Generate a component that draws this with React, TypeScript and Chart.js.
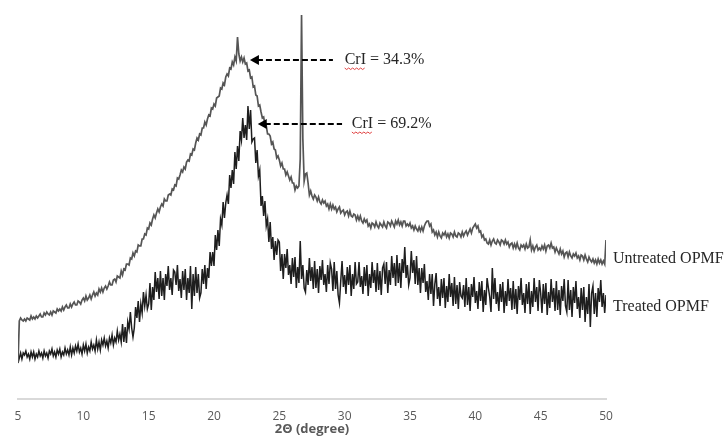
import React, { useEffect, useRef } from "react";
import { Chart, registerables } from "chart.js";

Chart.register(...registerables);

// 2θ grid (degrees): one value per 0.1° from 5° to 50°
const THETA_START = 5;
const THETA_STEP = 0.1;

// Untreated OPMF intensity (a.u.)
const untreated = [
  36, 78, 81, 79, 78, 80, 78, 81, 80, 79, 83, 80, 82, 80, 83, 81, 83, 85, 82, 82,
  86, 84, 87, 85, 84, 87, 84, 88, 87, 86, 90, 88, 90, 88, 92, 89, 92, 94, 91, 91,
  95, 92, 95, 97, 94, 94, 98, 97, 95, 99, 101, 98, 103, 99, 101, 104, 100, 104, 107, 103,
  106, 104, 110, 107, 111, 107, 111, 113, 110, 113, 117, 114, 114, 119, 120, 117, 123, 122, 121, 128,
  124, 130, 129, 135, 135, 134, 141, 140, 146, 143, 148, 147, 154, 153, 153, 160, 160, 165, 164, 171,
  170, 176, 174, 180, 184, 181, 186, 190, 187, 192, 195, 193, 200, 198, 198, 204, 205, 204, 210, 209,
  214, 213, 221, 220, 224, 229, 227, 232, 230, 237, 239, 238, 245, 244, 250, 249, 256, 261, 259, 265,
  264, 271, 271, 277, 274, 280, 284, 283, 291, 290, 295, 293, 301, 302, 303, 311, 310, 316, 314, 322,
  325, 323, 331, 330, 337, 334, 342, 338, 362, 345, 338, 342, 337, 341, 335, 336, 328, 329, 321, 322,
  312, 313, 304, 303, 293, 294, 287, 281, 282, 274, 273, 265, 265, 263, 255, 257, 250, 249, 241, 243,
  239, 233, 236, 230, 230, 224, 227, 223, 219, 222, 216, 216, 209, 213, 211, 213, 240, 384, 260, 218,
  225, 226, 216, 204, 208, 203, 200, 204, 202, 198, 202, 197, 195, 199, 196, 198, 193, 195, 190, 195,
  190, 194, 190, 192, 187, 190, 192, 186, 188, 189, 184, 187, 188, 183, 188, 183, 182, 185, 184, 179,
  183, 179, 183, 178, 176, 180, 177, 179, 173, 175, 171, 176, 175, 172, 177, 173, 171, 176, 174, 172,
  177, 173, 171, 177, 176, 173, 178, 175, 172, 178, 175, 179, 174, 177, 173, 178, 178, 173, 175, 173,
  176, 171, 173, 169, 173, 170, 168, 172, 168, 172, 168, 173, 176, 178, 178, 173, 175, 167, 169, 164,
  167, 162, 167, 163, 161, 166, 164, 167, 162, 165, 161, 166, 165, 162, 167, 163, 162, 166, 165, 162,
  167, 163, 166, 168, 164, 167, 170, 166, 171, 173, 175, 171, 173, 167, 168, 162, 164, 159, 160, 156,
  155, 159, 154, 158, 160, 156, 155, 159, 157, 154, 159, 158, 155, 159, 155, 157, 152, 155, 156, 151,
  155, 151, 156, 151, 149, 154, 152, 154, 150, 155, 151, 152, 159, 149, 153, 148, 152, 154, 149, 151,
  149, 153, 150, 154, 148, 153, 154, 151, 156, 151, 152, 147, 151, 148, 145, 150, 145, 148, 142, 146,
  147, 142, 147, 143, 141, 145, 143, 146, 141, 143, 139, 144, 143, 139, 144, 140, 137, 142, 139, 137,
  140, 136, 139, 135, 140, 136, 139, 135, 138, 135, 159,
];

// Treated OPMF intensity (a.u.)
const treated = [
  36, 41, 46, 40, 46, 44, 48, 42, 45, 40, 47, 42, 47, 40, 45, 42, 48, 43, 46, 41,
  48, 43, 46, 41, 48, 45, 50, 43, 47, 42, 49, 45, 50, 42, 47, 44, 51, 45, 49, 44,
  52, 44, 51, 46, 53, 48, 55, 47, 51, 45, 54, 48, 55, 46, 52, 48, 57, 50, 54, 48,
  59, 50, 57, 49, 59, 54, 61, 53, 58, 51, 61, 56, 64, 54, 61, 57, 68, 59, 65, 57,
  75, 57, 72, 56, 77, 70, 87, 71, 62, 71, 92, 81, 98, 77, 95, 86, 107, 93, 104, 90,
  95, 116, 89, 112, 99, 127, 107, 121, 100, 128, 103, 121, 99, 125, 113, 133, 109, 121, 104, 129,
  127, 114, 134, 108, 120, 101, 128, 109, 130, 99, 121, 106, 133, 90, 125, 103, 132, 106, 125, 101,
  106, 130, 115, 134, 110, 131, 121, 147, 133, 147, 133, 164, 149, 169, 153, 180, 174, 197, 181, 196,
  204, 195, 224, 211, 229, 215, 247, 230, 253, 238, 268, 259, 281, 261, 274, 259, 293, 270, 289, 257,
  260, 261, 236, 249, 223, 229, 193, 203, 183, 198, 173, 180, 157, 177, 150, 162, 139, 158, 144, 159,
  157, 128, 145, 120, 145, 131, 150, 124, 134, 115, 141, 122, 142, 111, 132, 116, 158, 120, 134, 111,
  107, 129, 114, 141, 118, 132, 110, 138, 111, 130, 106, 133, 119, 139, 114, 125, 107, 134, 115, 136,
  130, 108, 137, 110, 128, 104, 96, 118, 138, 112, 124, 105, 132, 114, 134, 103, 125, 110, 137, 115,
  117, 137, 112, 123, 105, 132, 113, 134, 103, 125, 111, 137, 116, 129, 107, 136, 109, 128, 104, 131,
  135, 115, 137, 106, 129, 114, 143, 121, 136, 113, 144, 116, 136, 111, 140, 126, 152, 121, 134, 114,
  121, 148, 126, 139, 115, 143, 114, 131, 106, 131, 116, 135, 107, 118, 99, 125, 105, 125, 93, 115,
  126, 100, 112, 93, 120, 101, 121, 91, 113, 97, 125, 102, 116, 93, 122, 95, 114, 90, 117, 103,
  101, 114, 92, 121, 94, 112, 88, 115, 102, 122, 96, 108, 90, 117, 98, 118, 87, 109, 94, 121,
  111, 102, 87, 131, 100, 121, 95, 107, 88, 115, 97, 117, 86, 108, 93, 120, 98, 111, 89, 118,
  90, 110, 85, 113, 99, 121, 94, 106, 86, 115, 95, 117, 85, 108, 92, 121, 97, 112, 88, 119,
  106, 86, 115, 95, 116, 84, 107, 91, 120, 97, 111, 88, 118, 89, 109, 84, 113, 98, 120, 93,
  87, 119, 89, 109, 82, 112, 96, 118, 90, 102, 81, 111, 89, 112, 77, 102, 85, 115, 72, 106,
  113, 85, 106, 82, 111, 97, 119, 92, 106, 86, 104,
];

const xTicks = [5, 10, 15, 20, 25, 30, 35, 40, 45, 50];
const xTitle = "2\u0398 (degree)";

const seriesNames = ["Untreated OPMF", "Treated OPMF"];
const seriesColors = ["#555555", "#1e1e1e"];
const seriesWidths = [1.7, 1.5];
const seriesLabelY = [140, 92];

const crILabels = ["CrI = 34.3%", "CrI = 69.2%"];
const crITipX = [22.75, 23.35];
const crITipY = [339, 275];
const crILineEndX = [29.1, 29.8];
const crITextX = [30.0, 30.55];

const toPoints = (vals: number[]) =>
  vals.map((y, i) => ({ x: Math.round((THETA_START + i * THETA_STEP) * 10) / 10, y }));

const overlayPlugin = {
  id: "overlay",
  afterDatasetsDraw(chart: any) {
    const { ctx, chartArea } = chart;
    const xs = chart.scales.x;
    const ys = chart.scales.y;
    ctx.save();
    ctx.font = '16px "Liberation Serif", serif';
    ctx.fillStyle = "#262626";
    ctx.textBaseline = "middle";
    ctx.textAlign = "left";
    seriesNames.forEach((name, i) => {
      ctx.fillText(name, chartArea.right + 7, ys.getPixelForValue(seriesLabelY[i]));
    });
    crILabels.forEach((label, i) => {
      const tx = xs.getPixelForValue(crITipX[i]);
      const ty = ys.getPixelForValue(crITipY[i]);
      const ex = xs.getPixelForValue(crILineEndX[i]);
      ctx.strokeStyle = "#000";
      ctx.lineWidth = 2;
      ctx.setLineDash([6, 3]);
      ctx.beginPath();
      ctx.moveTo(tx + 7, ty);
      ctx.lineTo(ex, ty);
      ctx.stroke();
      ctx.setLineDash([]);
      ctx.fillStyle = "#000";
      ctx.beginPath();
      ctx.moveTo(tx, ty);
      ctx.lineTo(tx + 9, ty - 5);
      ctx.lineTo(tx + 9, ty + 5);
      ctx.closePath();
      ctx.fill();
      const textX = xs.getPixelForValue(crITextX[i]);
      ctx.font = '16px "Liberation Serif", serif';
      ctx.fillStyle = "#262626";
      ctx.textBaseline = "middle";
      ctx.fillText(label, textX, ty);
      const w = ctx.measureText("CrI").width;
      ctx.strokeStyle = "#e04040";
      ctx.lineWidth = 1;
      ctx.beginPath();
      const uy = ty + 8;
      for (let k = 0; k <= w; k += 2) {
        const yy = uy + ((k / 2) % 2 === 0 ? 0 : 1.5);
        if (k === 0) ctx.moveTo(textX + k, yy);
        else ctx.lineTo(textX + k, yy);
      }
      ctx.stroke();
    });
    ctx.restore();
  },
};

export default function App() {
  const canvasRef = useRef<HTMLCanvasElement | null>(null);

  useEffect(() => {
    if (!canvasRef.current) return;
    const chart = new Chart(canvasRef.current, {
      type: "line",
      data: {
        datasets: [
          {
            label: seriesNames[0],
            data: toPoints(untreated),
            borderColor: seriesColors[0],
            borderWidth: seriesWidths[0],
            pointRadius: 0,
            tension: 0,
          },
          {
            label: seriesNames[1],
            data: toPoints(treated),
            borderColor: seriesColors[1],
            borderWidth: seriesWidths[1],
            pointRadius: 0,
            tension: 0,
          },
        ],
      },
      options: {
        responsive: false,
        animation: false,
        layout: { padding: { left: 18, right: 120, top: 0, bottom: 0 } },
        plugins: {
          legend: { display: false },
          tooltip: { enabled: false },
        },
        scales: {
          x: {
            type: "linear",
            min: 5,
            max: 50,
            afterBuildTicks: (scale: any) => {
              scale.ticks = xTicks.map((v) => ({ value: v }));
            },
            afterFit: (scale: any) => {
              scale.height = 38;
            },
            grid: { display: false, drawTicks: false },
            border: { display: true, color: "#d9d9d9", width: 2 },
            ticks: {
              padding: 10,
              color: "#595959",
              font: { family: '"Open Sans", sans-serif', size: 12 },
              maxRotation: 0,
            },
            title: {
              display: true,
              text: xTitle,
              color: "#595959",
              font: { family: '"Open Sans", sans-serif', size: 13, weight: "bold" },
              padding: { top: 0, bottom: 0 },
            },
          },
          y: {
            display: false,
            min: 0,
            max: 399,
          },
        },
      },
      plugins: [overlayPlugin],
    });
    return () => chart.destroy();
  }, []);

  return (
    <div style={{ position: "absolute", left: 0, top: 0, width: 726, height: 437, background: "#fff" }}>
      <canvas ref={canvasRef} width={726} height={437} />
    </div>
  );
}
